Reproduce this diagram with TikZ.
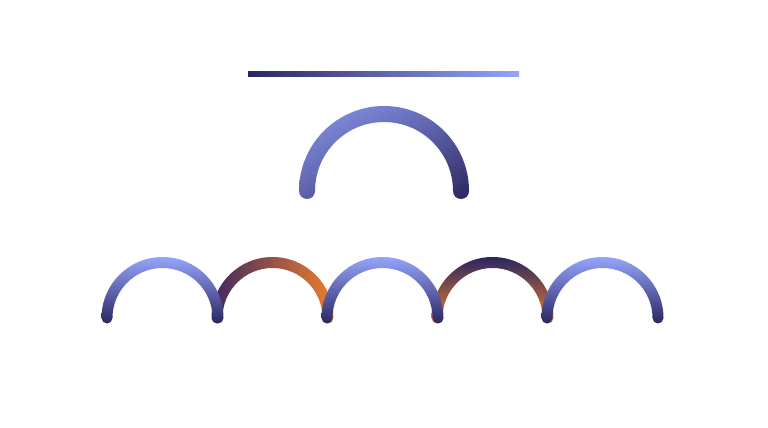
\documentclass[tikz,border=0pt]{standalone}
\usetikzlibrary{shadings}
\definecolor{navy}{HTML}{2B2660}
\definecolor{peri}{HTML}{94A5FC}
\definecolor{periB}{HTML}{8C99EE}
\definecolor{orng}{HTML}{EC7E2C}
\definecolor{purp}{HTML}{3D2860}
\newcommand{\gradarc}[5]{% cx cy r w shading
  \shade[#5] ({#1-#3-#4/2},#2) arc[start angle=180,end angle=0,radius={#3+#4/2}]
    arc[start angle=0,end angle=-180,radius={#4/2}]
    arc[start angle=0,end angle=180,radius={#3-#4/2}]
    arc[start angle=0,end angle=-180,radius={#4/2}] -- cycle;}
\tikzset{
  bluearc/.style={top color=peri,bottom color=navy},
  warmarc/.style={left color=purp,right color=orng},
  darkarc/.style={top color=navy,bottom color=orng},
  bigarc/.style={upper left=periB,lower right=navy,upper right=navy!45!periB,lower left=navy!50!periB}
}
\begin{document}
\begin{tikzpicture}[x=1pt,y=1pt]
\useasboundingbox (0,0) rectangle (768,428);
\fill[white] (0,0) rectangle (768,428);
% top line
\shade[left color=navy,right color=peri] (248,351.5) rectangle (519,356);
% big arc
\gradarc{384}{237}{77}{16}{bigarc}
% small arcs: back ones first
\gradarc{272.5}{110}{55.5}{11}{warmarc}
\gradarc{492.5}{110}{55.5}{11}{darkarc}
\gradarc{162.5}{110}{55.5}{11}{bluearc}
\gradarc{382.5}{110}{55.5}{11}{bluearc}
\gradarc{602.5}{110}{55.5}{11}{bluearc}
\end{tikzpicture}
\end{document}
